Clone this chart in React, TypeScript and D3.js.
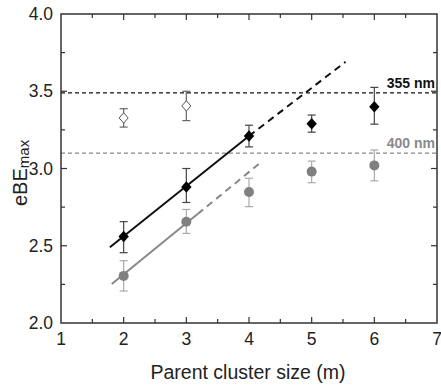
import React, { useRef, useEffect } from "react";
import * as d3 from "d3";

// cluster sizes (m)
const sizes = [2, 3, 4, 5, 6];
// filled black diamonds (355 nm)
const black = [2.56, 2.88, 3.21, 3.29, 3.4];
const blackLo = [2.455, 2.78, 3.14, 3.235, 3.287];
const blackHi = [2.656, 3.0, 3.28, 3.346, 3.525];
// grey circles (400 nm)
const grey = [2.305, 2.655, 2.848, 2.98, 3.02];
const greyLo = [2.207, 2.58, 2.753, 2.908, 2.92];
const greyHi = [2.403, 2.735, 2.937, 3.048, 3.12];
// open diamonds
const openSizes = [2, 3];
const open = [3.327, 3.405];
const openLo = [3.268, 3.31];
const openHi = [3.387, 3.5];

// fit lines: [m, eBE] for solid start, solid end, dashed end
const blackFit = [[1.78, 2.49], [4.0, 3.21], [5.54, 3.69]];
const greyFit = [[1.81, 2.252], [3.18, 2.705], [4.2, 3.044]];

// threshold lines
const thresholds = [
  { label: "355 nm", value: 3.49, color: "#111" },
  { label: "400 nm", value: 3.1, color: "#8a8a8a" },
];

const xTicks = [1, 2, 3, 4, 5, 6, 7];
const yTicks = [2.0, 2.5, 3.0, 3.5, 4.0];

// square-ish diamond path centred on 0,0
const diamondPath = (w: number, h: number) =>
  `M0,${-h}L${w},0L0,${h}L${-w},0Z`;

const App = () => {
  const ref = useRef<HTMLDivElement>(null);
  const width = 441;
  const height = 385;
  const left = 61;
  const right = 437;
  const top = 14;
  const bottom = 323;

  useEffect(() => {
    d3.select(ref.current).select("svg").remove();
    const svg = d3
      .select(ref.current)
      .append("svg")
      .attr("width", width)
      .attr("height", height)
      .style("display", "block")
      .style("font-family", "'Liberation Sans', Arial, sans-serif");

    const x = d3.scaleLinear().domain([1, 7]).range([left, right]);
    const y = d3.scaleLinear().domain([2, 4]).range([bottom, top]);

    const frame = "#333";

    // threshold dashed lines
    thresholds.forEach((t) => {
      svg
        .append("line")
        .attr("x1", left)
        .attr("x2", right)
        .attr("y1", y(t.value))
        .attr("y2", y(t.value))
        .attr("stroke", t.color)
        .attr("stroke-width", 1.2)
        .attr("stroke-dasharray", "4,3");
      svg
        .append("text")
        .attr("x", right - 2)
        .attr("y", y(t.value) - 5)
        .attr("text-anchor", "end")
        .style("font-size", "14px")
        .style("font-weight", "bold")
        .style("fill", t.color)
        .text(t.label);
    });

    // fit lines
    const drawFit = (pts: number[][], color: string) => {
      const line = d3
        .line<number[]>()
        .x((d) => x(d[0]))
        .y((d) => y(d[1]));
      svg
        .append("path")
        .attr("d", line([pts[0], pts[1]]))
        .attr("stroke", color)
        .attr("stroke-width", 2)
        .attr("fill", "none");
      svg
        .append("path")
        .attr("d", line([pts[1], pts[2]]))
        .attr("stroke", color)
        .attr("stroke-width", 2)
        .attr("stroke-dasharray", "7,5")
        .attr("fill", "none");
    };
    drawFit(blackFit, "#111");
    drawFit(greyFit, "#888");

    // error bars
    const errBars = (
      xs: number[],
      lo: number[],
      hi: number[],
      color: string
    ) => {
      xs.forEach((m, i) => {
        const g = svg.append("g").attr("stroke", color).attr("stroke-width", 1.2);
        g.append("line")
          .attr("x1", x(m))
          .attr("x2", x(m))
          .attr("y1", y(lo[i]))
          .attr("y2", y(hi[i]));
        [lo[i], hi[i]].forEach((v) => {
          g.append("line")
            .attr("x1", x(m) - 4)
            .attr("x2", x(m) + 4)
            .attr("y1", y(v))
            .attr("y2", y(v));
        });
      });
    };
    errBars(openSizes, openLo, openHi, "#666");
    errBars(sizes, greyLo, greyHi, "#aaa");
    errBars(sizes, blackLo, blackHi, "#444");

    // open diamonds
    svg
      .selectAll(".open")
      .data(open)
      .enter()
      .append("path")
      .attr("d", diamondPath(4.5, 5.2))
      .attr("transform", (d, i) => `translate(${x(openSizes[i])},${y(d)})`)
      .attr("fill", "#fff")
      .attr("stroke", "#555")
      .attr("stroke-width", 1);

    // grey circles
    svg
      .selectAll(".grey")
      .data(grey)
      .enter()
      .append("circle")
      .attr("cx", (d, i) => x(sizes[i]))
      .attr("cy", (d) => y(d))
      .attr("r", 5)
      .attr("fill", "#808080");

    // black diamonds
    svg
      .selectAll(".black")
      .data(black)
      .enter()
      .append("path")
      .attr("d", diamondPath(5.2, 5.8))
      .attr("transform", (d, i) => `translate(${x(sizes[i])},${y(d)})`)
      .attr("fill", "#000");

    // frame
    svg
      .append("rect")
      .attr("x", left)
      .attr("y", top)
      .attr("width", right - left)
      .attr("height", bottom - top)
      .attr("fill", "none")
      .attr("stroke", frame)
      .attr("stroke-width", 1.5);

    // x ticks (inward, top and bottom)
    const xAll = d3.range(1, 7.01, 0.5);
    xAll.forEach((v) => {
      const len = Number.isInteger(v) ? 6 : 4;
      if (v === 1 || v === 7) return;
      svg.append("line")
        .attr("x1", x(v)).attr("x2", x(v))
        .attr("y1", bottom).attr("y2", bottom - len)
        .attr("stroke", frame).attr("stroke-width", 1.2);
      svg.append("line")
        .attr("x1", x(v)).attr("x2", x(v))
        .attr("y1", top).attr("y2", top + len)
        .attr("stroke", frame).attr("stroke-width", 1.2);
    });

    // y ticks (inward, left and right)
    const yAll = d3.range(2, 4.001, 0.25);
    yAll.forEach((v) => {
      if (v === 2 || v === 4) return;
      const len = Math.abs(v * 2 - Math.round(v * 2)) < 1e-6 ? 6 : 4;
      svg.append("line")
        .attr("x1", left).attr("x2", left + len)
        .attr("y1", y(v)).attr("y2", y(v))
        .attr("stroke", frame).attr("stroke-width", 1.2);
      svg.append("line")
        .attr("x1", right).attr("x2", right - len)
        .attr("y1", y(v)).attr("y2", y(v))
        .attr("stroke", frame).attr("stroke-width", 1.2);
    });

    // tick labels
    svg
      .selectAll(".xt")
      .data(xTicks)
      .enter()
      .append("text")
      .attr("x", (d) => x(d))
      .attr("y", bottom + 22)
      .attr("text-anchor", "middle")
      .style("font-size", "17.5px")
      .style("fill", "#222")
      .text((d) => d);

    svg
      .selectAll(".yt")
      .data(yTicks)
      .enter()
      .append("text")
      .attr("x", left - 8)
      .attr("y", (d) => y(d) + 6)
      .attr("text-anchor", "end")
      .style("font-size", "17.5px")
      .style("fill", "#222")
      .text((d) => d.toFixed(1));

    // axis titles
    svg
      .append("text")
      .attr("x", 248)
      .attr("y", 379)
      .attr("text-anchor", "middle")
      .style("font-size", "19.5px")
      .style("fill", "#222")
      .text("Parent cluster size (m)");

    const yl = svg
      .append("text")
      .attr("transform", `translate(27, 206) rotate(-90)`)
      .attr("text-anchor", "start")
      .style("font-size", "20px")
      .style("fill", "#222");
    yl.append("tspan").text("eBE");
    yl.append("tspan")
      .attr("dy", 2)
      .style("font-size", "15px")
      .text("max");
  }, []);

  return (
    <div
      ref={ref}
      style={{ position: "absolute", left: 0, top: 0, width, height }}
    />
  );
};

export default App;
